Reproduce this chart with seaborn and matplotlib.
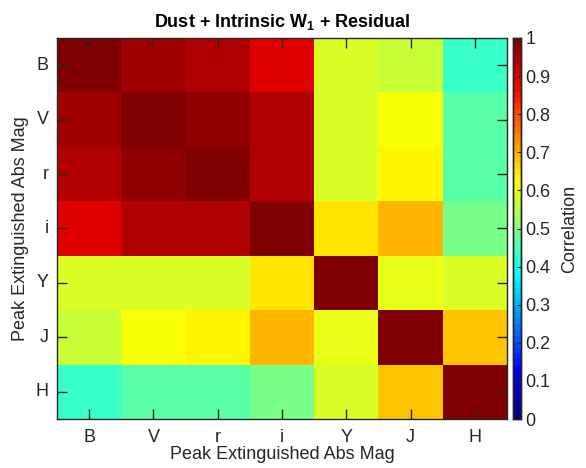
import matplotlib
matplotlib.use("Agg")
import matplotlib.pyplot as plt
from matplotlib.colors import ListedColormap
import seaborn as sns
import numpy as np
import pandas as pd

bands = ["B", "V", "r", "i", "Y", "J", "H"]

row_B = [1.000, 0.964, 0.949, 0.895, 0.583, 0.571, 0.424]
row_V = [0.964, 1.000, 0.978, 0.949, 0.580, 0.615, 0.458]
row_r = [0.949, 0.978, 1.000, 0.953, 0.583, 0.640, 0.468]
row_i = [0.895, 0.949, 0.953, 1.000, 0.650, 0.703, 0.498]
row_Y = [0.583, 0.580, 0.583, 0.650, 1.000, 0.596, 0.586]
row_J = [0.571, 0.615, 0.640, 0.703, 0.596, 1.000, 0.684]
row_H = [0.424, 0.458, 0.468, 0.498, 0.586, 0.684, 1.000]

cbar_ticks = [0, 0.1, 0.2, 0.3, 0.4, 0.5, 0.6, 0.7, 0.8, 0.9, 1]

corr = pd.DataFrame([row_B, row_V, row_r, row_i, row_Y, row_J, row_H],
                    index=bands, columns=bands)

# matlab style jet, 64 levels
x = np.linspace(0, 1, 64)
jet = np.clip(np.stack([1.5 - np.abs(4 * x - 3),
                        1.5 - np.abs(4 * x - 2),
                        1.5 - np.abs(4 * x - 1)], axis=1), 0, 1)
cmap = ListedColormap(jet)

sns.set_theme(style="white")
plt.rcParams["font.family"] = ["Liberation Sans", "DejaVu Sans"]
plt.rcParams["mathtext.fontset"] = "custom"
plt.rcParams["mathtext.bf"] = "Liberation Sans:bold"
plt.rcParams["mathtext.rm"] = "Liberation Sans"

fig = plt.figure(figsize=(5.86, 4.68), dpi=100)
ax = fig.add_axes([57 / 586, 49 / 468, 450 / 586, 381 / 468])
cax = fig.add_axes([513 / 586, 49 / 468, 8 / 586, 381 / 468])

dark = "#262626"
fs = 13
sns.heatmap(corr, ax=ax, cbar_ax=cax, cmap=cmap,
            vmin=0, vmax=1, square=False,
            cbar_kws={"ticks": cbar_ticks})

ax.set_axisbelow(False)
for s in ax.spines.values():
    s.set_visible(True)
    s.set_color(dark)
    s.set_linewidth(1.0)

ax.tick_params(axis="both", direction="in", length=7, width=1.0, color=dark,
               labelsize=fs, labelcolor=dark, top=True, right=True,
               bottom=True, left=True)
ax.tick_params(axis="x", pad=7)
ax.tick_params(axis="y", pad=6)
ax.set_xticklabels(bands, rotation=0)
ax.set_yticklabels(bands, rotation=0)
ax.set_xlabel("Peak Extinguished Abs Mag", fontsize=fs, color=dark, labelpad=0)
ax.set_ylabel("Peak Extinguished Abs Mag", fontsize=fs, color=dark, labelpad=5)
ax.set_title(r"Dust + Intrinsic W$_{\mathbf{1}}$ + Residual", fontsize=fs,
             fontweight="bold", color="black", pad=8)

cax.set_axisbelow(False)
for s in cax.spines.values():
    s.set_visible(True)
    s.set_color(dark)
    s.set_linewidth(1.0)
cax.tick_params(direction="in", length=3, width=0.8, color=dark,
                labelsize=fs, labelcolor=dark, pad=3)
cax.set_yticklabels([f"{t:g}" for t in cbar_ticks])
cax.set_ylabel("Correlation", fontsize=fs, color=dark, labelpad=8)

fig.savefig("out.png", dpi=100)
